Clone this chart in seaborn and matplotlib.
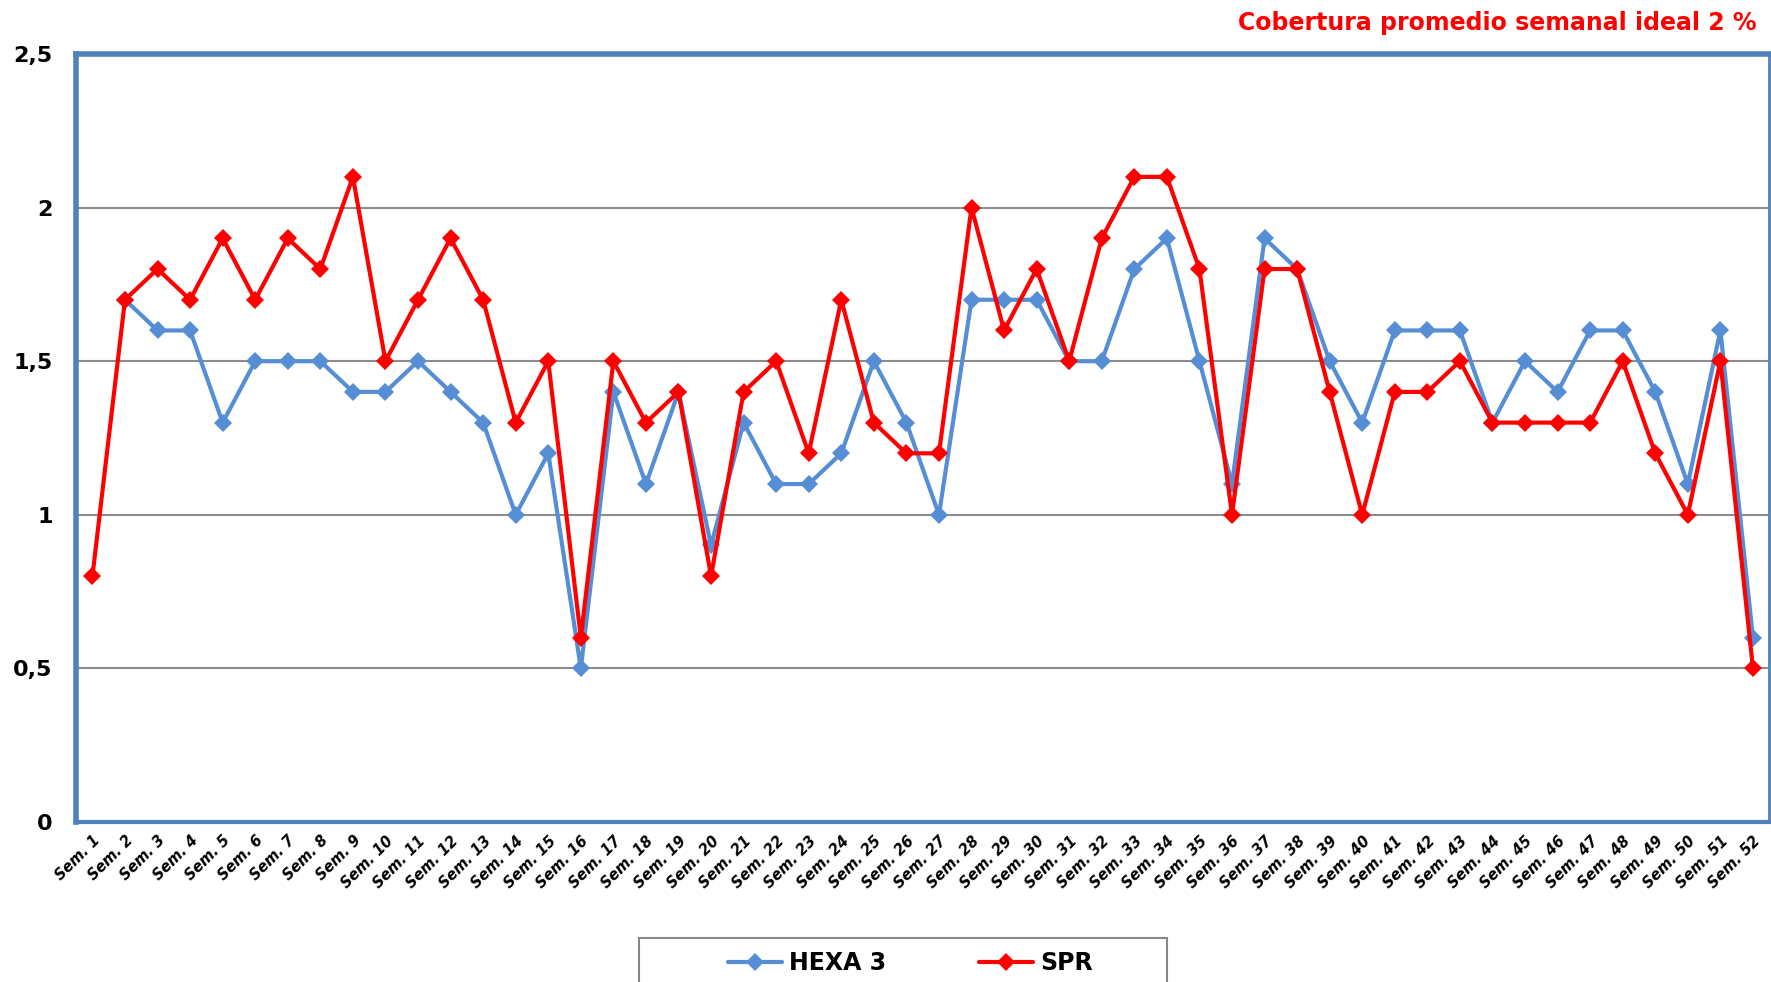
import matplotlib
matplotlib.use("Agg")
import matplotlib.pyplot as plt
import seaborn as sns
import pandas as pd
import numpy as np

# weekly coverage values
weeks = [f"Sem. {i}" for i in range(1, 53)]
hexa3 = [np.nan, 1.7, 1.6, 1.6, 1.3, 1.5, 1.5, 1.5, 1.4, 1.4,
         1.5, 1.4, 1.3, 1.0, 1.2, 0.5, 1.4, 1.1, 1.4, 0.9,
         1.3, 1.1, 1.1, 1.2, 1.5, 1.3, 1.0, 1.7, 1.7, 1.7,
         1.5, 1.5, 1.8, 1.9, 1.5, 1.1, 1.9, 1.8, 1.5, 1.3,
         1.6, 1.6, 1.6, 1.3, 1.5, 1.4, 1.6, 1.6, 1.4, 1.1,
         1.6, 0.6]
spr = [0.8, 1.7, 1.8, 1.7, 1.9, 1.7, 1.9, 1.8, 2.1, 1.5,
       1.7, 1.9, 1.7, 1.3, 1.5, 0.6, 1.5, 1.3, 1.4, 0.8,
       1.4, 1.5, 1.2, 1.7, 1.3, 1.2, 1.2, 2.0, 1.6, 1.8,
       1.5, 1.9, 2.1, 2.1, 1.8, 1.0, 1.8, 1.8, 1.4, 1.0,
       1.4, 1.4, 1.5, 1.3, 1.3, 1.3, 1.3, 1.5, 1.2, 1.0,
       1.5, 0.5]
y_ticks = [0, 0.5, 1, 1.5, 2, 2.5]
y_labels = ["0", "0,5", "1", "1,5", "2", "2,5"]

pos = np.arange(len(weeks))
df = pd.concat([
    pd.DataFrame({"pos": pos, "valor": hexa3, "serie": "HEXA 3"}),
    pd.DataFrame({"pos": pos, "valor": spr, "serie": "SPR"}),
])

sns.set_style("white")
plt.rcParams['font.family'] = ['DejaVu Sans']

fig = plt.figure(figsize=(17.71, 9.82), dpi=100)
ax = fig.add_axes([0.043, 0.163, 0.956, 0.782])

palette = {"HEXA 3": "#558ED5", "SPR": "#FF0000"}
sns.lineplot(data=df.dropna(), x="pos", y="valor", hue="serie", palette=palette,
             marker="D", markersize=9, markeredgewidth=0, linewidth=3,
             ax=ax, legend=False)

ax.set_xlim(-0.5, len(weeks) - 0.5)
ax.set_ylim(0, 2.5)
ax.set_yticks(y_ticks)
ax.set_yticklabels(y_labels, fontsize=16, fontweight="bold", color="black")
ax.set_xticks(pos)
ax.set_xticklabels(weeks, rotation=45, ha="right", rotation_mode="anchor",
                   fontsize=10.5, fontweight="bold", style="italic", color="black")
ax.set_xticks(np.arange(-0.5, len(weeks), 1), minor=True)
ax.tick_params(axis="x", which="major", length=0, pad=8)
ax.tick_params(axis="x", which="minor", length=7, color="#888888", width=1.2)
ax.tick_params(axis="y", length=7, color="#888888", width=1.2, pad=10)
ax.set_xlabel("")
ax.set_ylabel("")

ax.yaxis.grid(True, color="#8C8C8C", linewidth=1.5)
ax.set_axisbelow(True)
for side, w in [("left", 4), ("top", 4), ("bottom", 3), ("right", 2)]:
    ax.spines[side].set_color("#4F81BD")
    ax.spines[side].set_linewidth(w)

fig.text(0.992, 0.977, "Cobertura promedio semanal ideal 2 %", color="#FF0000",
         fontsize=17, fontweight="bold", ha="right", va="center")

# legend box (runs past the bottom edge like the original)
box = plt.Rectangle((0.361, -0.05), 0.298, 0.095, transform=fig.transFigure,
                    facecolor="white", edgecolor="#888888", linewidth=1.5)
fig.patches.append(box)

handles = [plt.Line2D([], [], color=palette[k], marker="D", markersize=9,
                      markeredgewidth=0, linewidth=3) for k in palette]
leg = fig.legend(handles, list(palette), loc="center",
                 bbox_to_anchor=(0.514, 0.019), ncol=2, frameon=False,
                 prop={"weight": "bold", "size": 17}, handlelength=2.3,
                 columnspacing=3.9, handletextpad=0.3)
for t in leg.get_texts():
    t.set_color("black")

fig.savefig("out.png", dpi=100)
